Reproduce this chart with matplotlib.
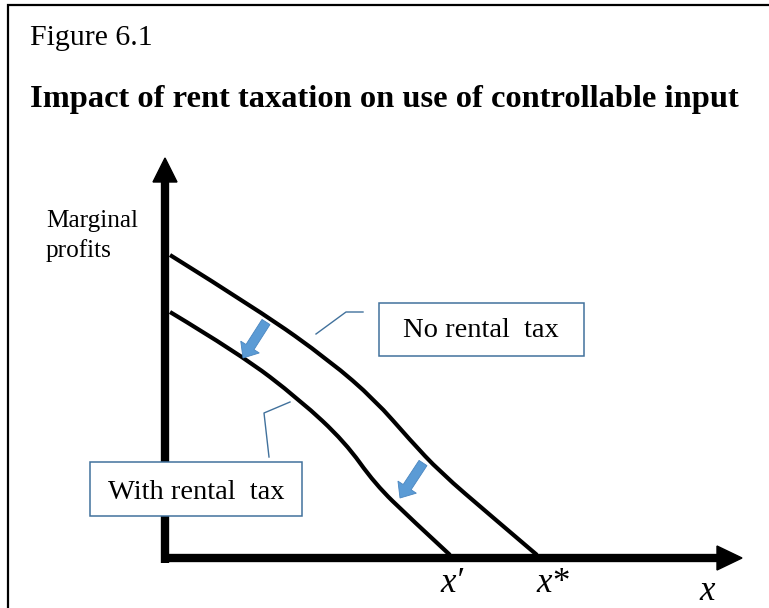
import matplotlib.pyplot as plt
from matplotlib.patches import Polygon, Rectangle, FancyArrow, PathPatch
from matplotlib.path import Path

# curves in pixel space (x right, y down)
no_tax_x = [170, 260, 330, 375, 410, 440, 490, 537]
no_tax_y = [255, 311, 361, 400, 440, 472, 515, 555]
tax_x = [170, 240, 300, 345, 375, 410, 450]
tax_y = [312, 354, 400, 442, 484, 518, 555]

# shift arrows: (tail x, tail y, tip x, tip y)
shift_arrows = [(266, 322, 243, 358), (423, 463, 400, 498)]

x_labels = ["x′", "x*", "x"]
x_label_pos = [(452, 592), (553, 592), (707, 600)]

blue = "#5B9BD5"
box_edge = "#41719C"


def smooth_path(xs, ys):
    # quadratic b-spline through the listed points (points act as controls)
    pts = list(zip(xs, ys))
    verts = [pts[0]]
    codes = [Path.MOVETO]
    for i in range(1, len(pts) - 1):
        mid = ((pts[i][0] + pts[i + 1][0]) / 2, (pts[i][1] + pts[i + 1][1]) / 2)
        if i == len(pts) - 2:
            mid = pts[-1]
        verts += [pts[i], mid]
        codes += [Path.CURVE3, Path.CURVE3]
    return Path(verts, codes)


fig = plt.figure(figsize=(7.69, 6.08), dpi=100)
ax = fig.add_axes([0, 0, 1, 1])
ax.set_xlim(0, 769)
ax.set_ylim(608, 0)
ax.axis("off")

serif = ["Liberation Serif", "DejaVu Serif"]

# outer frame (left and top)
ax.plot([8, 8, 769], [608, 5, 5], color="black", lw=1.6, solid_joinstyle="miter")

ax.text(30, 45, "Figure 6.1", family=serif, fontsize=21.5, va="baseline")
ax.text(30, 107, "Impact of rent taxation on use of controllable input",
        family=serif, fontsize=23.4, fontweight="bold", va="baseline")

# axes with arrow heads
ax.plot([165, 165], [563, 178], color="black", lw=6, solid_capstyle="butt")
ax.add_patch(Polygon([(153, 182), (177, 182), (165, 158)], closed=True, color="black"))
ax.plot([161, 720], [558, 558], color="black", lw=6, solid_capstyle="butt")
ax.add_patch(Polygon([(717, 546), (717, 570), (742, 558)], closed=True, color="black"))

ax.text(46, 227, "Marginal", family=serif, fontsize=18.2, va="baseline")
ax.text(46, 257, "profits", family=serif, fontsize=18.2, va="baseline")

# marginal profit curves
for xs, ys in [(no_tax_x, no_tax_y), (tax_x, tax_y)]:
    ax.add_patch(PathPatch(smooth_path(xs, ys), fill=False, edgecolor="black",
                           lw=3, capstyle="butt", zorder=3))

for x0, y0, x1, y1 in shift_arrows:
    ax.add_patch(FancyArrow(x0, y0, x1 - x0, y1 - y0, width=9.5, head_width=22,
                            head_length=13, length_includes_head=True,
                            facecolor=blue, edgecolor="#4A86C0", lw=0.6, zorder=4))

# callouts
ax.add_patch(Rectangle((379, 303), 205, 53, facecolor="white", edgecolor=box_edge,
                       lw=1.1, zorder=5))
ax.text(481, 337, "No rental  tax", family=serif, fontsize=20.5, ha="center",
        va="baseline", zorder=6)
ax.plot([316, 346, 363], [334, 312, 312], color=box_edge, lw=1)

ax.add_patch(Rectangle((90, 462), 212, 54, facecolor="white", edgecolor=box_edge,
                       lw=1.1, zorder=5))
ax.text(196, 499, "With rental  tax", family=serif, fontsize=20.5, ha="center",
        va="baseline", zorder=6)
ax.plot([290, 264, 269], [402, 413, 457], color=box_edge, lw=1)

for lab, (lx, ly) in zip(x_labels, x_label_pos):
    ax.text(lx, ly, lab, family=serif, fontsize=25, style="italic",
            ha="center", va="baseline")

fig.savefig("out.png", dpi=100)
